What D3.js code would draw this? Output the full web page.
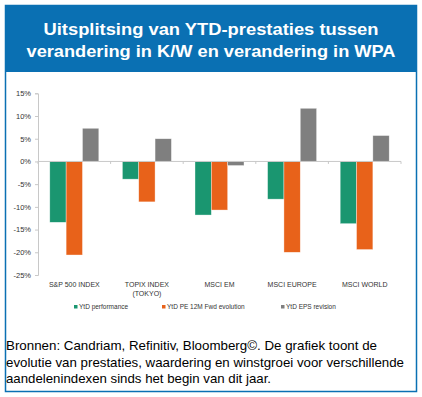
<!DOCTYPE html>
<html><head><meta charset="utf-8">
<script src="https://cdn.jsdelivr.net/npm/d3@7"></script>
<style>
html,body{margin:0;padding:0;background:#fff;}
svg{display:block;}
text{font-family:"Liberation Sans",Arial,sans-serif;}
</style></head>
<body>
<svg id="chart" width="422" height="397"></svg>
<script>
const categories = [["S&P 500 INDEX"], ["TOPIX INDEX", "(TOKYO)"], ["MSCI EM"], ["MSCI EUROPE"], ["MSCI WORLD"]];
const seriesNames = ["YtD performance", "YtD PE 12M Fwd evolution", "YtD EPS revision"];
const perf = [-13.4, -3.9, -11.8, -8.3, -13.7];
const pe = [-20.6, -8.9, -10.7, -20.0, -19.4];
const eps = [7.3, 5.0, -0.9, 11.7, 5.7];
const yTicks = [15, 10, 5, 0, -5, -10, -15, -20, -25];
const titleLines = ["Uitsplitsing van YTD-prestaties tussen", "verandering in K/W en verandering in WPA"];
const captionLines = ["Bronnen: Candriam, Refinitiv, Bloomberg\u00A9. De grafiek toont de",
  "evolutie van prestaties, waardering en winstgroei voor verschillende",
  "aandelenindexen sinds het begin van dit jaar."];
const colors = ["#1a9670", "#e8621a", "#7f7f7f"];

const svg = d3.select("#chart");
const blue = "#0a70b3";

// frame
svg.append("rect").attr("x", 5.5).attr("y", 5.5).attr("width", 411).attr("height", 386)
  .attr("fill", "#fff").attr("stroke", blue).attr("stroke-width", 1.5);
svg.append("rect").attr("x", 5).attr("y", 5).attr("width", 412).attr("height", 67).attr("fill", blue);
const titleLen = [335, 369];
svg.selectAll("text.title").data(titleLines).join("text").attr("class", "title")
  .attr("x", 211).attr("y", (d, i) => 35 + i * 22).attr("text-anchor", "middle")
  .attr("fill", "#fff").attr("font-weight", "bold").attr("font-size", 17)
  .attr("textLength", (d, i) => titleLen[i]).attr("lengthAdjust", "spacingAndGlyphs").text(d => d);

const x0 = d3.scaleBand().domain(d3.range(categories.length)).range([38, 401]).paddingInner(0.325).paddingOuter(0.1625);
const x1 = d3.scaleBand().domain(d3.range(3)).range([0, x0.bandwidth()]);
const y = d3.scaleLinear().domain([-25, 15]).range([275, 93.3]);

// y axis
const yAxis = d3.axisLeft(y).tickValues(yTicks).tickFormat(d => d + "%").tickSize(3).tickPadding(4);
const ga = svg.append("g").attr("transform", "translate(38,0)").call(yAxis);
ga.select(".domain").attr("stroke", "#c8c8c8");
ga.selectAll(".tick line").attr("stroke", "#c8c8c8");
ga.selectAll(".tick text").attr("font-size", 7.5).attr("fill", "#333").attr("font-family", "Liberation Sans, Arial, sans-serif");

// bars
const series = [perf, pe, eps];
series.forEach((vals, s) => {
  svg.append("g").selectAll("rect").data(vals).join("rect")
    .attr("x", (d, i) => x0(i) + x1(s))
    .attr("width", x1.bandwidth())
    .attr("y", d => y(Math.max(0, d)))
    .attr("height", d => Math.abs(y(d) - y(0)))
    .attr("fill", colors[s])
    .attr("stroke", "rgba(255,255,255,0.6)").attr("stroke-width", 0.6);
});

// zero line with category ticks
svg.append("line").attr("x1", 38).attr("x2", 401).attr("y1", y(0)).attr("y2", y(0))
  .attr("stroke", "#c8c8c8").attr("stroke-width", 1);
const step = x0.step();
svg.append("g").selectAll("line").data(d3.range(categories.length + 1)).join("line")
  .attr("x1", i => 38 + i * step).attr("x2", i => 38 + i * step)
  .attr("y1", y(0)).attr("y2", y(0) + 2.5).attr("stroke", "#c8c8c8");

// category labels
categories.forEach((lines, i) => {
  const cx = x0(i) + x0.bandwidth() / 2;
  lines.forEach((t, j) => {
    svg.append("text").attr("x", cx).attr("y", 287 + j * 8.5).attr("text-anchor", "middle")
      .attr("font-size", 7).attr("fill", "#333").text(t);
  });
});

// legend
const legX = [76, 164, 283];
seriesNames.forEach((n, i) => {
  svg.append("rect").attr("x", legX[i] - 2).attr("y", 305).attr("width", 3.5).attr("height", 3.5).attr("fill", colors[i]);
  svg.append("text").attr("x", legX[i] + 3).attr("y", 309).attr("font-size", 6.5).attr("fill", "#333").text(n);
});

// caption
const capLen = [371, 398, 265];
svg.selectAll("text.cap").data(captionLines).join("text").attr("class", "cap")
  .attr("x", 6).attr("y", (d, i) => 350 + i * 16.7).attr("font-size", 13).attr("fill", "#000")
  .attr("textLength", (d, i) => capLen[i]).attr("lengthAdjust", "spacingAndGlyphs").text(d => d);
</script>
</body></html>
